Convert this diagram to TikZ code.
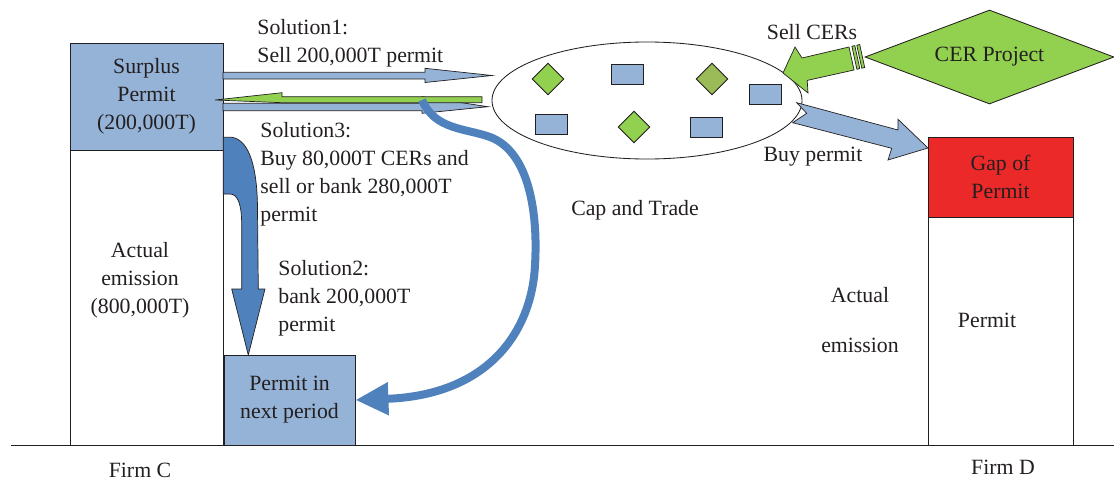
\documentclass[tikz,border=0pt]{standalone}
\usepackage{fontspec}
\setmainfont{Liberation Serif}
\usetikzlibrary{arrows.meta,shapes.geometric}
\definecolor{ink}{RGB}{35,31,32}
\definecolor{permitblue}{RGB}{149,179,215}
\definecolor{flowblue}{RGB}{79,129,189}
\definecolor{cergreen}{RGB}{146,208,80}
\definecolor{cerolive}{RGB}{155,187,89}
\definecolor{gapred}{RGB}{236,41,41}
\tikzset{
  every picture/.style={color=ink, line width=0.6pt, font=\fontsize{15.5}{19.9}\selectfont},
  box/.style={draw=ink, inner sep=0pt, align=center},
  firm/.style={box, fill=white},
  held/.style={box, fill=permitblue},
  gapbox/.style={box, fill=gapred},
  chip/.style={box, fill=permitblue, minimum width=8mm, minimum height=5mm},
  cer/.style={draw=ink, fill=cergreen, diamond, inner sep=0pt, minimum width=8mm, minimum height=8mm},
  lbl/.style={inner sep=0pt, align=left, anchor=base west},
  txt/.style={inner sep=0pt, align=center},
  blockarrow/.style={draw=ink, line width=0.5pt, line join=miter},
}

\begin{document}
\begin{tikzpicture}[x=0.25mm, y=-0.25mm]
  % pixel grid of the figure, y running down
  \useasboundingbox (0,0) rectangle (1114,480);
  \draw (11,445) -- (1114,445);
  % firm C
  \node[firm, minimum width=38.25mm, minimum height=73.75mm] (emitC) at (146.5,297.5) {};
  \node[txt] (emitCtxt) at (140,280) {Actual\\emission\\(800,000T)};
  \node[held, minimum width=38.25mm, minimum height=26.75mm] (surplus) at (146.5,96.5) {Surplus\\Permit\\(200,000T)};
  \node[held, minimum width=32.75mm, minimum height=22.5mm] (nextperiod) at (289.5,400) {Permit in\\next period};
  \node[txt] (firmC) at (140,470) {Firm C};
  % firm D
  \node[firm, minimum width=36.25mm, minimum height=57mm] (emitD) at (1000.5,331) {};
  \node[gapbox, minimum width=36.25mm, minimum height=20mm] (gap) at (1000.5,177) {Gap of\\Permit};
  \node[txt] (permitD) at (987,320) {Permit};
  \node[txt] (actualD) at (860,320) {Actual\\[5.5mm]emission};
  \node[txt] (firmD) at (1003,467) {Firm D};
  % the market
  \node[draw=ink, ellipse, inner sep=0pt, minimum width=77.5mm, minimum height=29.25mm] (market) at (647,100.5) {};
  \node[cer] (c1) at (548,79) {};
  \node[cer, fill=cerolive] (c2) at (712,79) {};
  \node[cer] (c3) at (634,127) {};
  \node[chip] (p1) at (627.5,74) {};
  \node[chip] (p2) at (765,94) {};
  \node[chip] (p3) at (551,124.5) {};
  \node[chip] (p4) at (706,127) {};
  \node[txt] (captrade) at (635,210) {Cap and Trade};
  % trades with the market
  \draw[blockarrow, fill=permitblue] (223,72.3) -- (425,72.3) -- (425,68.3) -- (492,75.5) -- (425,82.5) -- (425,79) -- (223,79) -- cycle;
  \draw[blockarrow, fill=permitblue] (223,103.3) -- (422,103.3) -- (422,96.7) -- (488,106.7) -- (422,113.3) -- (422,110.7) -- (223,110.7) -- cycle;
  \draw[blockarrow, fill=cergreen] (482,96.7) -- (282,96.7) -- (282,92.7) -- (215,100) -- (282,102.7) -- (482,102.7) -- cycle;
  \draw[blockarrow, fill=permitblue] (796.7,102.7) -- (898,130) -- (898,119.3) -- (928,148) -- (888,160) -- (891.7,148.3) -- (792.7,122.7) -- (806.7,113.3) -- cycle;
  \draw[blockarrow, fill=cergreen] (783,73) -- (795,47) -- (802,58) -- (849,47) -- (854,70) -- (807.2,80.4) -- (808,93) -- cycle;
  \draw[blockarrow, fill=cergreen] (851.9,46.3) -- (854.8,45.6) -- (859.8,68.6) -- (856.9,69.3) -- cycle;
  \draw[blockarrow, fill=cergreen] (856.8,45.2) -- (859.7,44.5) -- (864.7,67.5) -- (861.8,68.2) -- cycle;
  \node[draw=ink, fill=cergreen, diamond, aspect=2.65, inner sep=0pt, minimum width=62.25mm, minimum height=23.5mm] (project) at (989.5,57) {CER Project};
  % banking
  \draw[blockarrow, fill=flowblue] (223.3,137.3) -- (232,137.3) .. controls (250,140) and (257.5,170) .. (257.5,210) -- (258.3,289) -- (265,289) -- (248.3,355) -- (231.7,289) -- (241.7,289) -- (241.7,225) .. controls (241.7,205) and (238,194) .. (230,194) -- (223.3,194) -- cycle;
  \coordinate (bank3) at (422,100);
  \draw[flowblue, line width=2mm, -{Triangle[length=8.25mm, width=7.75mm]}] (bank3) .. controls (435,130) and (465,128) .. (490,137) .. controls (530,152) and (538,215) .. (535,265) .. controls (532,330) and (490,395) .. (nextperiod.east);
  % labels, placed by the baseline of their last line
  \node[lbl] (sol1) at (257,62) {Solution1:\\Sell 200,000T permit};
  \node[lbl] (sol3) at (260,221.7) {Solution3:\\Buy 80,000T CERs and\\sell or bank 280,000T\\permit};
  \node[lbl] (sol2) at (278,331.7) {Solution2:\\bank 200,000T\\permit};
  \node[txt] (sellcer) at (812,32) {Sell CERs};
  \node[txt] (buypermit) at (813,157) {Buy permit};
\end{tikzpicture}
\end{document}
